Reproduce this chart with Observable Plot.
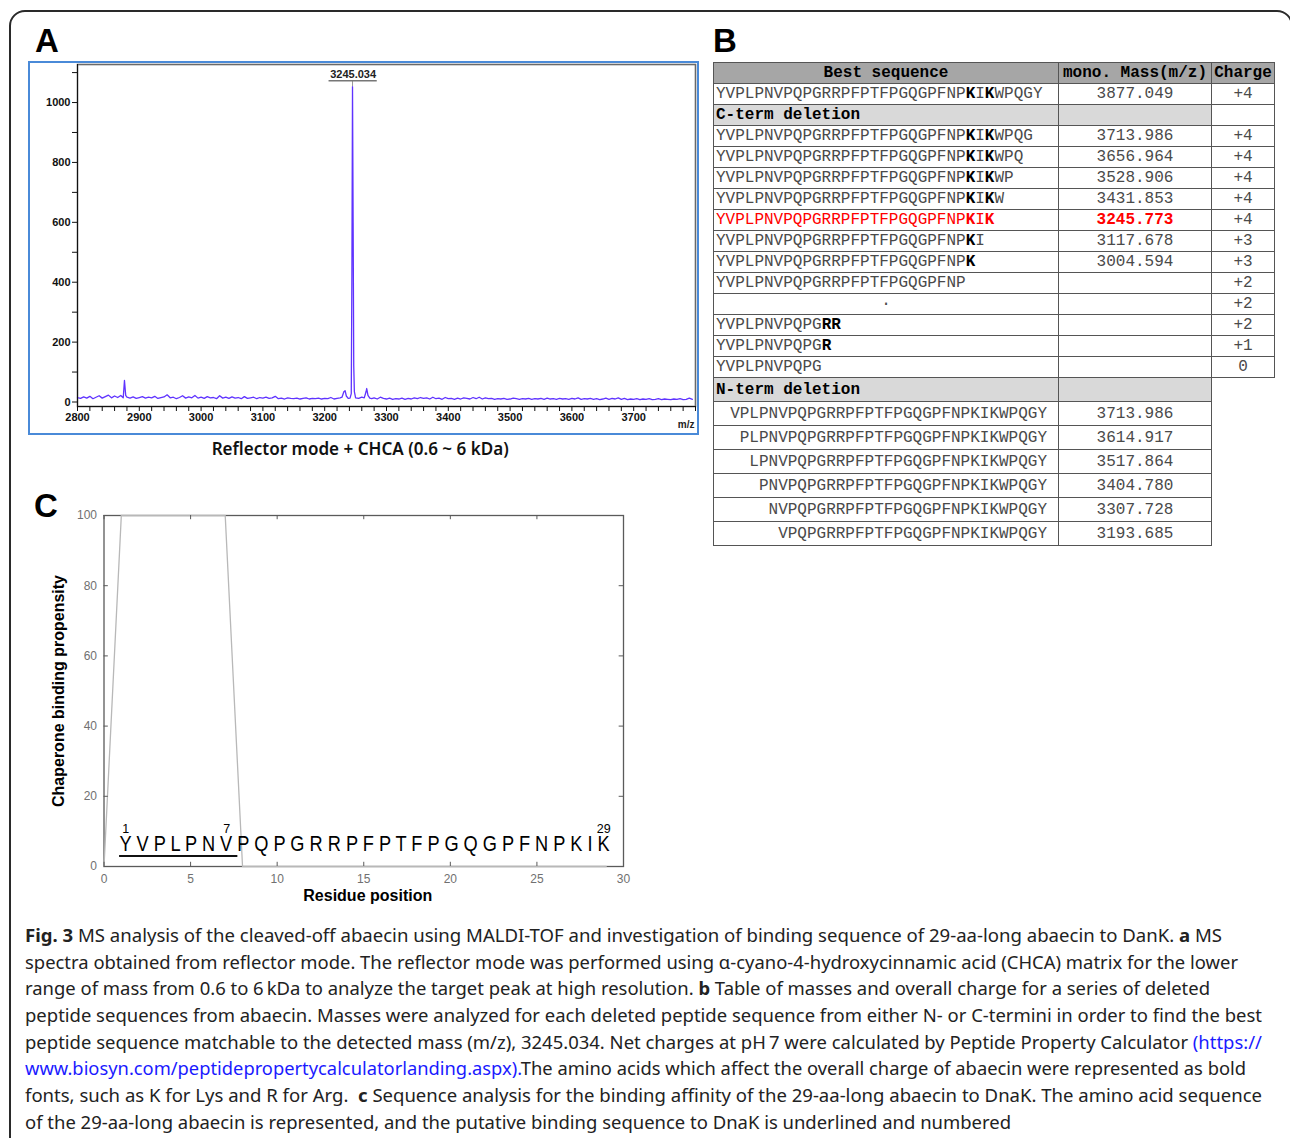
<!DOCTYPE html>
<html>
<head>
<meta charset="utf-8">
<script src="https://cdn.jsdelivr.net/npm/d3@7"></script>
<script src="https://cdn.jsdelivr.net/npm/@observablehq/plot@0.6"></script>
<style>
html, body { margin: 0; padding: 0; background: #fff; }
body { position: relative; width: 1290px; height: 1138px; overflow: hidden; font-family: "Liberation Sans", Arial, sans-serif; }
.abs { position: absolute; }
#outer { left: 9px; top: 10px; width: 1284px; height: 1200px; border: 2px solid #2a2a2a; border-radius: 16px; box-sizing: border-box; }
.panel-label { font-family: "Liberation Sans", Arial, sans-serif; font-weight: bold; font-size: 33px; line-height: 33px; color: #000; z-index: 5; }
#boxA { left: 28px; top: 61px; width: 671px; height: 374px; border: 2px solid #4a8ad8; box-sizing: border-box; }
#capA { left: 0px; width: 720px; top: 436px; text-align: center; font-family: "Noto Sans", sans-serif; font-weight: 600; font-size: 17px; line-height: 26px; color: #111; }
#capA span { display: inline-block; transform-origin: center center; white-space: nowrap; }
#tblB { position: absolute; left: 713px; top: 62px; border-collapse: collapse; table-layout: fixed; font-family: "Liberation Mono", "Courier New", monospace; font-size: 16px; color: #4a4a4a; }
#tblB td { border: 1px solid #555; padding: 0 2px; white-space: nowrap; overflow: hidden; vertical-align: middle; box-sizing: border-box; }
#tblB tr.r21 td { height: 21px; line-height: 19px; padding-top: 1px; }
#tblB tr.r24 td { height: 24px; line-height: 22px; padding-top: 1px; }
#tblB td.hdr { background: #a6a6a6; font-weight: bold; color: #000; text-align: center; }
#tblB td.sec { background: #d9d9d9; font-weight: bold; color: #000; }
#tblB td.num { text-align: center; }
#tblB td.right { text-align: right; padding-right: 11px; }
#tblB td.center { text-align: center; }
#tblB b { color: #000; }
#tblB tr.hit td { color: #ff0000; }
#tblB tr.hit b { color: #ff0000; }
#caption { left: 25px; top: 922px; font-family: "Noto Sans", sans-serif; font-size: 18.5px; line-height: 26.7px; color: #222; }
#caption .line { white-space: nowrap; height: 26.7px; }
#caption .line span.inner { display: inline-block; transform-origin: left center; }
#caption a { color: #1a1aff; text-decoration: none; }
</style>
</head>
<body>
<div id="outer" class="abs"></div>
<div class="abs panel-label" style="left:35px;top:24px;">A</div>
<div class="abs panel-label" style="left:713px;top:24px;">B</div>
<div class="abs panel-label" style="left:34px;top:489px;">C</div>
<div id="boxA" class="abs"></div>
<div id="capA" class="abs"><span id="capAText"></span></div>
<table id="tblB"></table>
<div id="caption" class="abs"></div>
<script>
// ================= DATA =================
// Panel A: MALDI-TOF spectrum (m/z, intensity)
const spectrumMz = [
  2800,2805,2810,2815,2820,2825,2830,2835,2840,2845,2850,2855,2860,2865,2870,2874,2876,2878,2880,2885,2890,2895,
  2900,2905,2910,2915,2920,2925,2930,2935,2940,2945,
  2950,2955,2960,2965,2970,2975,2980,2985,2990,2995,
  3000,3005,3010,3015,3020,3025,3030,3035,3040,3045,
  3050,3055,3060,3065,3070,3075,3080,3085,3090,3095,
  3100,3105,3110,3115,3120,3125,3130,3135,3140,3145,
  3150,3155,3160,3165,3170,3175,3180,3185,3190,3195,
  3200,3205,3210,3215,3220,3225,
  3228,3231,3233,3235,3238,3241,3243,3244,3245,3246,3247,3248,3250,3255,3260,3264,3267,3268,3270,3273,3276,
  3280,3285,3290,3295,3300,3305,3310,3315,3320,3325,
  3330,3335,3340,3345,3350,3355,3360,3365,3370,3375,
  3380,3385,3390,3395,3400,3405,3410,3415,3420,3425,
  3430,3435,3440,3445,3450,3455,3460,3465,3470,3475,
  3480,3485,3490,3495,3500,3505,3510,3515,3520,3525,
  3530,3535,3540,3545,3550,3555,3560,3565,3570,3575,
  3580,3585,3590,3595,3600,3605,3610,3615,3620,3625,
  3630,3635,3640,3645,3650,3655,3660,3665,3670,3675,
  3680,3685,3690,3695,3700,3705,3710,3715,3720,3725,
  3730,3735,3740,3745,3750,3755,3760,3765,3770,3775,
  3780,3785,3790,3795
];
const spectrumIntensity = [
  15,12,17,13,19,11,16,21,13,18,23,14,20,15,22,14,72,22,16,13,17,12,
  15,18,13,16,14,19,12,15,17,24,
  14,16,11,15,21,13,17,14,22,13,
  16,12,18,14,15,11,21,13,16,12,
  17,13,15,11,18,12,14,16,11,15,
  13,16,12,14,19,11,13,10,14,12,
  11,13,10,12,14,10,12,11,13,10,
  12,11,15,10,12,14,
  16,34,38,20,12,13,28,420,1053,600,120,35,14,12,16,14,35,45,22,13,11,
  14,10,16,12,10,13,9,11,10,13,
  9,12,10,14,11,15,12,14,10,16,
  11,13,9,15,11,12,9,13,10,14,
  12,10,15,11,16,10,14,11,12,9,
  11,10,12,9,10,13,11,9,11,10,
  12,9,11,10,12,9,13,10,11,9,
  12,10,11,9,12,10,14,9,11,10,
  12,9,11,8,10,13,9,12,10,14,
  9,12,8,10,9,11,8,10,9,11,
  8,9,11,8,10,9,8,10,9,11,
  8,9,13,9
];
const peakMz = [3245.034];
const peakIntensity = [1053];
const peakLabels = ["3245.034"];
const xTickLabelsA = [2800, 2900, 3000, 3100, 3200, 3300, 3400, 3500, 3600, 3700];
const yTickLabelsA = [0, 200, 400, 600, 800, 1000];
const captionA = "Reflector mode + CHCA (0.6 ~ 6 kDa)";

// Panel B: table
const tableHeaders = ["Best sequence", "mono. Mass(m/z)", "Charge"];
const fullSequence = "YVPLPNVPQPGRRPFPTFPGQGPFNP{K}I{K}WPQGY";
const fullMass = "3877.049";
const fullCharge = "+4";
const cTermLabel = "C-term deletion";
const cTermSequences = [
  "YVPLPNVPQPGRRPFPTFPGQGPFNP{K}I{K}WPQG",
  "YVPLPNVPQPGRRPFPTFPGQGPFNP{K}I{K}WPQ",
  "YVPLPNVPQPGRRPFPTFPGQGPFNP{K}I{K}WP",
  "YVPLPNVPQPGRRPFPTFPGQGPFNP{K}I{K}W",
  "YVPLPNVPQPGRRPFPTFPGQGPFNP{K}I{K}",
  "YVPLPNVPQPGRRPFPTFPGQGPFNP{K}I",
  "YVPLPNVPQPGRRPFPTFPGQGPFNP{K}",
  "YVPLPNVPQPGRRPFPTFPGQGPFNP",
  "\u00b7",
  "YVPLPNVPQPG{RR}",
  "YVPLPNVPQPG{R}",
  "YVPLPNVPQPG"
];
const cTermMasses = ["3713.986", "3656.964", "3528.906", "3431.853", "3245.773", "3117.678", "3004.594", "", "", "", "", ""];
const cTermCharges = ["+4", "+4", "+4", "+4", "+4", "+3", "+3", "+2", "+2", "+2", "+1", "0"];
const matchedRow = 4;
const nTermLabel = "N-term deletion";
const nTermSequences = [
  "VPLPNVPQPGRRPFPTFPGQGPFNPKIKWPQGY",
  "PLPNVPQPGRRPFPTFPGQGPFNPKIKWPQGY",
  "LPNVPQPGRRPFPTFPGQGPFNPKIKWPQGY",
  "PNVPQPGRRPFPTFPGQGPFNPKIKWPQGY",
  "NVPQPGRRPFPTFPGQGPFNPKIKWPQGY",
  "VPQPGRRPFPTFPGQGPFNPKIKWPQGY"
];
const nTermMasses = ["3713.986", "3614.917", "3517.864", "3404.780", "3307.728", "3193.685"];

// Panel C: chaperone binding propensity
const residuePositions = [0,1,2,3,4,5,6,7,8,9,10,11,12,13,14,15,16,17,18,19,20,21,22,23,24,25,26,27,28,29];
const propensityValues = [0,100,100,100,100,100,100,100,0,0,0,0,0,0,0,0,0,0,0,0,0,0,0,0,0,0,0,0,0,0];
const residueSequence = "YVPLPNVPQPGRRPFPTFPGQGPFNPKIK";
const numberedResidues = [1, 7, 29];
const underlinedRange = [1, 7];
const xTicksC = [0, 5, 10, 15, 20, 25, 30];
const yTicksC = [0, 20, 40, 60, 80, 100];
const xLabelC = "Residue position";
const yLabelC = "Chaperone binding propensity";

// Caption
const captionLines = [
  [["b", "Fig. 3"], ["t", " MS analysis of the cleaved-off abaecin using MALDI-TOF and investigation of binding sequence of 29-aa-long abaecin to DanK. "], ["b", "a"], ["t", " MS"]],
  [["t", "spectra obtained from reflector mode. The reflector mode was performed using \u03b1-cyano-4-hydroxycinnamic acid (CHCA) matrix for the lower"]],
  [["t", "range of mass from 0.6 to 6\u2009kDa to analyze the target peak at high resolution. "], ["b", "b"], ["t", " Table of masses and overall charge for a series of deleted"]],
  [["t", "peptide sequences from abaecin. Masses were analyzed for each deleted peptide sequence from either N- or C-termini in order to find the best"]],
  [["t", "peptide sequence matchable to the detected mass (m/z), 3245.034. Net charges at pH\u20097 were calculated by Peptide Property Calculator "], ["a", "(https://"]],
  [["a", "www.biosyn.com/peptidepropertycalculatorlanding.aspx)."], ["t", "The amino acids which affect the overall charge of abaecin were represented as bold"]],
  [["t", "fonts, such as K for Lys and R for Arg.\u00a0 "], ["b", "c"], ["t", " Sequence analysis for the binding affinity of the 29-aa-long abaecin to DnaK. The amino acid sequence"]],
  [["t", "of the 29-aa-long abaecin is represented, and the putative binding sequence to DnaK is underlined and numbered"]]
];
const captionLineEnds = [1222, 1238, 1210, 1262, 1262, 1246, 1262, 1011];

// ================= PANEL A =================
const spectrum = spectrumMz.map((mz, i) => ({mz, intensity: spectrumIntensity[i]}));
const peaks = peakMz.map((mz, i) => ({mz, intensity: peakIntensity[i], label: peakLabels[i]}));
const minorTicksA = d3.range(2800, 3801, 20);
const yMinorA = d3.range(0, 1101, 100);
const labelY = 1093, underlineY = 1073;

const chartA = Plot.plot({
  width: 667, height: 370,
  marginLeft: 47, marginRight: 2, marginTop: 1, marginBottom: 27,
  x: {domain: [2800, 3800]},
  y: {domain: [-15, 1127]},
  style: {fontFamily: "'Liberation Sans', Arial, sans-serif", fontSize: "11px", fontWeight: "bold", color: "#111", background: "white"},
  marks: [
    Plot.frame({stroke: "#6a6a6a", strokeWidth: 1.6}),
    Plot.line(spectrum, {x: "mz", y: "intensity", stroke: "#5f33ff", strokeWidth: 1.3}),
    Plot.axisX({ticks: minorTicksA, tickSize: 5, tickPadding: 2, label: null, tickFormat: d => xTickLabelsA.includes(d) ? String(d) : ""}),
    Plot.axisY({ticks: yMinorA, tickSize: 5, tickPadding: 2, label: null, tickFormat: d => yTickLabelsA.includes(d) ? String(d) : ""}),
    Plot.ruleX([2800], {stroke: "#111", strokeWidth: 1}),
    Plot.ruleY([-15], {stroke: "#111", strokeWidth: 1}),
    Plot.ruleX(peaks, {x: "mz", y1: "intensity", y2: underlineY, stroke: "#999", strokeWidth: 1}),
    Plot.ruleY(peaks, {y: () => underlineY, x1: d => d.mz - 38, x2: d => d.mz + 40, stroke: "#777", strokeWidth: 1.5}),
    Plot.text(peaks, {x: d => d.mz + 1, y: () => labelY, text: "label", fontSize: 11, fontWeight: "bold", fill: "#222"}),
    Plot.text(["m/z"], {frameAnchor: "bottom-right", text: d => d, dy: 21, dx: -1, textAnchor: "end", fontSize: 10, fontWeight: "bold", fill: "#222"})
  ]
});
chartA.style.position = "absolute";
chartA.style.left = "30px";
chartA.style.top = "63px";
document.body.appendChild(chartA);

document.getElementById("capAText").textContent = captionA;

// ================= PANEL B =================
const seqHTML = s => s.replace(/\{([A-Z]+)\}/g, "<b>$1</b>");
let tb = `<colgroup><col style="width:345px"><col style="width:153px"><col style="width:63px"></colgroup>`;
tb += `<tr class="r21">${tableHeaders.map(h => `<td class="hdr">${h}</td>`).join("")}</tr>`;
tb += `<tr class="r21"><td>${seqHTML(fullSequence)}</td><td class="num">${fullMass}</td><td class="num">${fullCharge}</td></tr>`;
tb += `<tr class="r21"><td class="sec">${cTermLabel}</td><td class="sec"></td><td></td></tr>`;
cTermSequences.forEach((s, i) => {
  const hit = i === matchedRow;
  const cls = s === "\u00b7" ? ' class="center"' : "";
  const mass = hit ? `<b>${cTermMasses[i]}</b>` : cTermMasses[i];
  tb += `<tr class="r21${hit ? " hit" : ""}"><td${cls}>${seqHTML(s)}</td><td class="num">${mass}</td><td class="num"${hit ? ' style="color:#4a4a4a"' : ""}>${cTermCharges[i]}</td></tr>`;
});
tb += `<tr class="r24"><td class="sec">${nTermLabel}</td><td class="sec"></td></tr>`;
nTermSequences.forEach((s, i) => {
  tb += `<tr class="r24"><td class="right">${s}</td><td class="num">${nTermMasses[i]}</td></tr>`;
});
document.getElementById("tblB").innerHTML = tb;

// ================= PANEL C =================
const propensity = residuePositions.map((p, i) => ({pos: p, value: propensityValues[i]}));
const widthC = 600, heightC = 430, mlC = 63.5, mrC = 17, mtC = 25, mbC = 54;
const pxPerUnit = (widthC - mlC - mrC) / 30;
const seqFontSize = 22;
const seqString = residueSequence.split("").join(" ");
const ctx = document.createElement("canvas").getContext("2d");
ctx.font = `${seqFontSize}px "Liberation Sans"`;
const naturalW = ctx.measureText(seqString).width;
const xStart = numberedResidues[0] - 0.1;
const xEnd = residueSequence.length + 0.2;
const seqPixelLen = (xEnd - xStart) * pxPerUnit;
const squeeze = seqPixelLen / naturalW;
const charCenterX = pos => {
  const idx = (pos - 1) * 2;
  const pre = ctx.measureText(seqString.slice(0, idx)).width;
  const w = ctx.measureText(seqString[idx]).width;
  return xStart + squeeze * (pre + w / 2) / pxPerUnit;
};
const charEndAfterX = pos => {
  const idx = (pos - 1) * 2 + 2;
  return xStart + squeeze * ctx.measureText(seqString.slice(0, idx)).width / pxPerUnit;
};
const numberMarks = numberedResidues.map(p => ({pos: p, x: charCenterX(p)}));
const underlineEnd = charEndAfterX(underlinedRange[1]);

const chartC = Plot.plot({
  width: widthC, height: heightC,
  marginLeft: mlC, marginRight: mrC, marginTop: mtC, marginBottom: mbC,
  x: {domain: [0, 30]},
  y: {domain: [0, 100]},
  style: {fontFamily: "'Liberation Sans', Arial, sans-serif", fontSize: "12px", color: "#707070", background: "transparent"},
  marks: [
    Plot.frame({stroke: "#5a5a5a", strokeWidth: 1.3}),
    Plot.line(propensity, {x: "pos", y: "value", stroke: "#b8b8b8", strokeWidth: 1.3}),
    Plot.axisX({ticks: xTicksC, tickSize: 0, tickPadding: 8, label: null}),
    Plot.axisY({ticks: yTicksC, tickSize: 0, tickPadding: 7, label: null}),
    Plot.ruleX(xTicksC, {y1: 0, y2: 1.2, stroke: "#5a5a5a"}),
    Plot.ruleX(xTicksC, {y1: 100, y2: 98.8, stroke: "#5a5a5a"}),
    Plot.ruleY(yTicksC, {x1: 0, x2: 0.25, stroke: "#5a5a5a"}),
    Plot.ruleY(yTicksC, {x1: 30, x2: 29.75, stroke: "#5a5a5a"}),
    Plot.text([seqString], {x: xStart, y: 4.3, text: d => d, textAnchor: "start", lineAnchor: "bottom", fontSize: seqFontSize, fill: "#000"}),
    Plot.text(numberMarks, {x: "x", y: 9.6, text: d => String(d.pos), lineAnchor: "bottom", fontSize: 12.5, fill: "#000"}),
    Plot.ruleY([3.0], {x1: xStart, x2: underlineEnd, stroke: "#111", strokeWidth: 2}),
    Plot.text([yLabelC], {frameAnchor: "left", textAnchor: "middle", rotate: -90, dx: -45, text: d => d, fontWeight: "bold", fontSize: 16, fill: "#000"}),
    Plot.text([xLabelC], {frameAnchor: "bottom", textAnchor: "middle", dy: 34, dx: 4, text: d => d, fontWeight: "bold", fontSize: 16, fill: "#000"})
  ]
});
chartC.style.position = "absolute";
chartC.style.left = "40px";
chartC.style.top = "490px";
document.body.appendChild(chartC);
const seqEl = [...chartC.querySelectorAll("text")].find(t => t.textContent === seqString);
if (seqEl) {
  seqEl.setAttribute("textLength", seqPixelLen.toFixed(2));
  seqEl.setAttribute("lengthAdjust", "spacingAndGlyphs");
}

// ================= CAPTION =================
const capDiv = document.getElementById("caption");
captionLines.forEach((segs, i) => {
  const line = document.createElement("div");
  line.className = "line";
  const inner = document.createElement("span");
  inner.className = "inner";
  inner.innerHTML = segs.map(([k, t]) => k === "b" ? `<b>${t}</b>` : k === "a" ? `<a>${t}</a>` : t).join("");
  line.appendChild(inner);
  capDiv.appendChild(line);
});
const fit = () => {
  [...capDiv.querySelectorAll("span.inner")].forEach((el, i) => {
    el.style.transform = "none";
    const w = el.getBoundingClientRect().width;
    el.style.transform = `scaleX(${(captionLineEnds[i] - 25) / w})`;
  });
  const ca = document.getElementById("capAText");
  ca.style.transform = "none";
  ca.style.transform = `scaleX(${297 / ca.getBoundingClientRect().width})`;
};
fit();
if (document.fonts && document.fonts.ready) document.fonts.ready.then(fit);
</script>
</body>
</html>
